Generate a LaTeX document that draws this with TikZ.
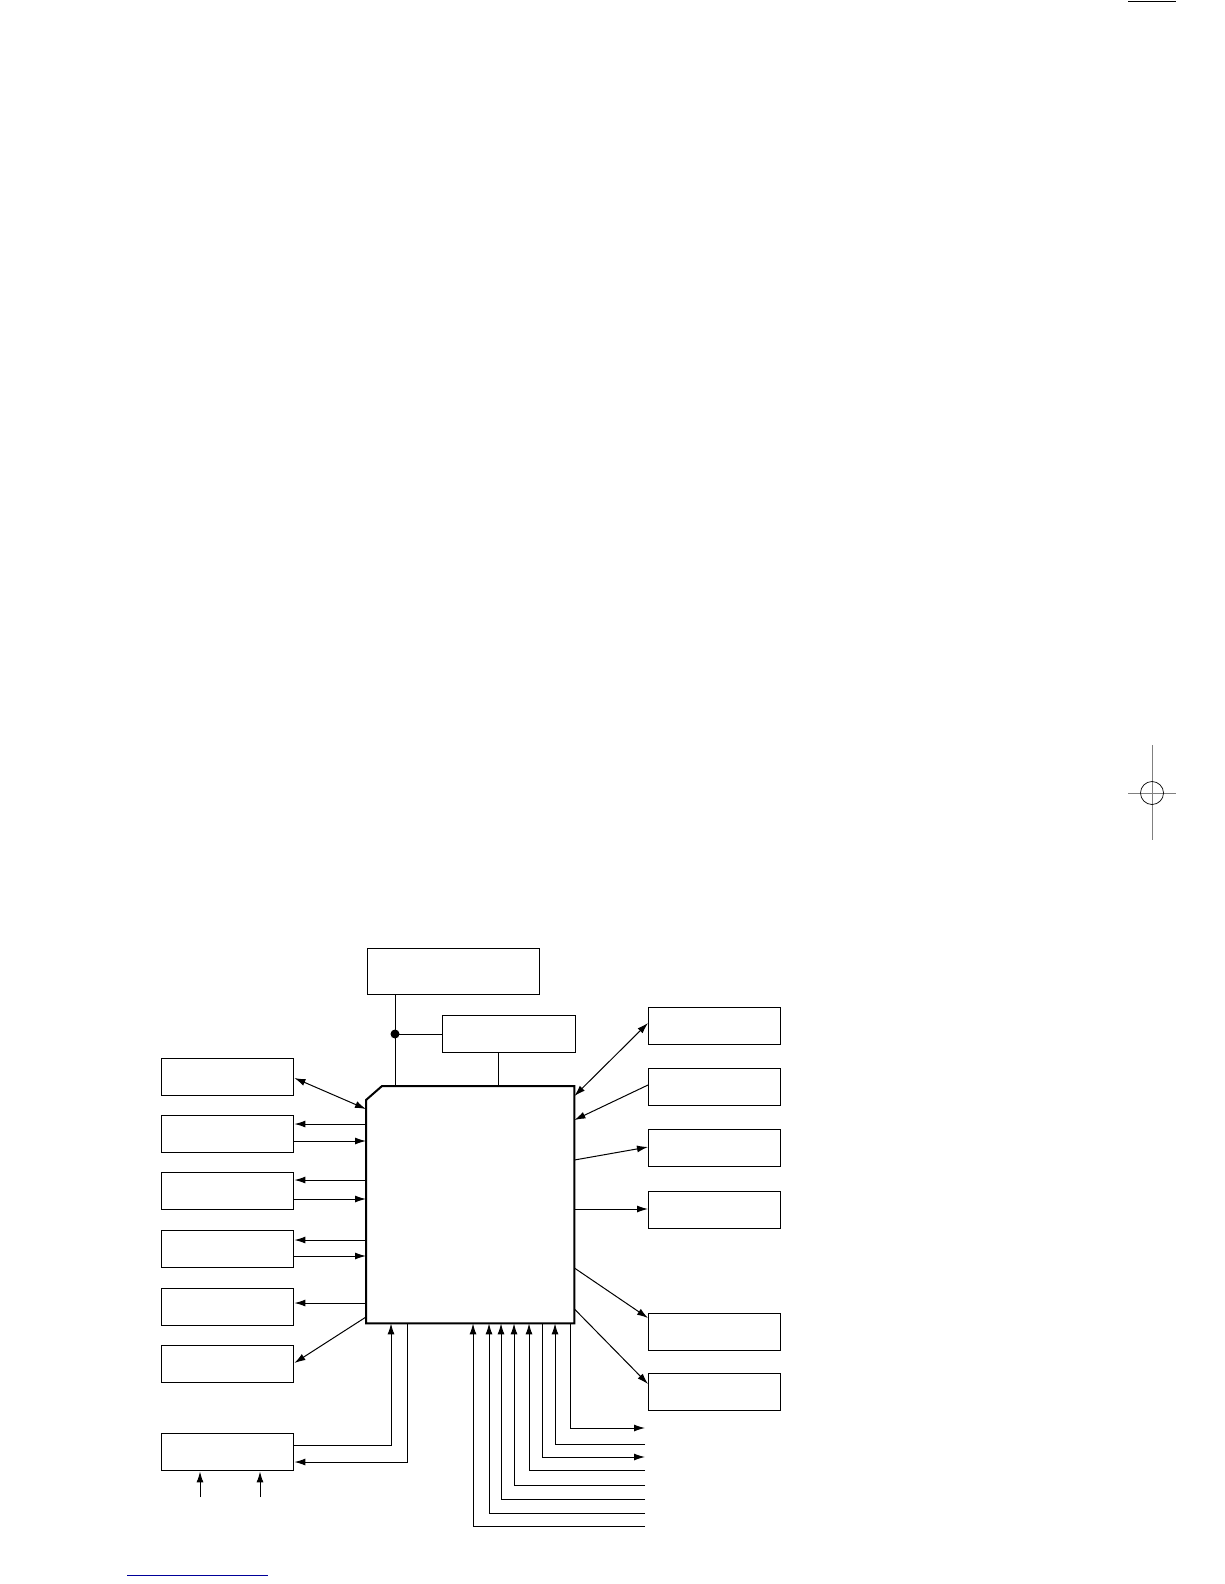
\documentclass[tikz,border=0pt]{standalone}
\usetikzlibrary{arrows.meta,calc}
\begin{document}
\begin{tikzpicture}[x=1pt,y=-1pt,
  box/.style={draw,line width=1.4pt,inner sep=0pt,anchor=north west,minimum width=132pt,minimum height=37pt},
  conn/.style={line width=1pt},
  arr/.style={conn,-{Latex[length=11pt,width=7pt]}},
  darr/.style={conn,{Latex[length=11pt,width=7pt]}-{Latex[length=11pt,width=7pt]}}]
\useasboundingbox (0,0) rectangle (1224,1584);
% page marks
\draw[line width=1.5pt] (1128,1.5) -- (1176,1.5);
\draw[gray,line width=0.8pt] (1152,745) -- (1152,840) (1128,793) -- (1176,793);
\draw[line width=0.7pt] (1152,793) circle (11.5);
\draw[blue!60!black,line width=1pt] (127,1575) -- (268,1575);
% main block
\node[inner sep=0pt,minimum width=208pt,minimum height=237pt,anchor=north west] (main) at (366,1086) {};
\draw[line width=2pt] ([xshift=16pt]main.north west) -- (main.north east) -- (main.south east)
  -- (main.south west) -- ([yshift=-14pt]main.north west) -- cycle;
% top boxes
\node[box,minimum width=172pt,minimum height=46pt] (T) at (367,948) {};
\node[box,minimum width=133pt,minimum height=37pt] (M) at (442,1015) {};
% left boxes
\node[box] (L1) at (161,1058) {};
\node[box] (L2) at (161,1115) {};
\node[box] (L3) at (161,1172) {};
\node[box] (L4) at (161,1230) {};
\node[box] (L5) at (161,1288) {};
\node[box] (L6) at (161,1345) {};
\node[box] (L7) at (161,1433) {};
% right boxes
\node[box] (R1) at (648,1007) {};
\node[box] (R2) at (648,1068) {};
\node[box] (R3) at (648,1129) {};
\node[box] (R4) at (648,1191) {};
\node[box] (R5) at (648,1313) {};
\node[box] (R6) at (648,1373) {};
% top connections
\coordinate (dot) at (395,1034);
\draw[conn] (T.south -| dot) -- (main.north -| dot);
\fill (dot) circle (4.5);
\draw[conn] (dot) -- (M.west |- dot);
\draw[conn] (M.south -| 498,0) -- (main.north -| 498,0);
% left connections
\draw[darr] (L1.east |- 0,1078) -- (main.west |- 0,1109);
\draw[arr] (main.west |- 0,1124) -- (L2.east |- 0,1124);
\draw[arr] (L2.east |- 0,1141) -- (main.west |- 0,1141);
\draw[arr] (main.west |- 0,1180) -- (L3.east |- 0,1180);
\draw[arr] (L3.east |- 0,1199) -- (main.west |- 0,1199);
\draw[arr] (main.west |- 0,1240) -- (L4.east |- 0,1240);
\draw[arr] (L4.east |- 0,1256) -- (main.west |- 0,1256);
\draw[arr] (main.west |- 0,1303) -- (L5.east |- 0,1303);
\draw[arr] (main.west |- 0,1317) -- (L6.east |- 0,1363);
\draw[arr] (L7.east |- 0,1445) -- (391,1445) -- (main.south -| 391,0);
\draw[arr] (main.south -| 407,0) -- (407,1462) -- (L7.east |- 0,1462);
\coordinate (in1) at (200,1497);
\coordinate (in2) at (260,1497);
\draw[arr] (in1) -- (L7.south -| in1);
\draw[arr] (in2) -- (L7.south -| in2);
% right connections
\draw[darr] (main.east |- 0,1096) -- (R1.west |- 0,1023);
\draw[arr] (R2.west |- 0,1085) -- (main.east |- 0,1120);
\draw[arr] (main.east |- 0,1160) -- (R3.west |- 0,1147);
\draw[arr] (main.east |- 0,1209) -- (R4.west |- 0,1209);
\draw[arr] (main.east |- 0,1268) -- (R5.west |- 0,1318);
\draw[arr] (main.east |- 0,1309) -- (R6.west |- 0,1384);
% bottom signal lines
\coordinate (o1) at (645,1428);
\coordinate (o2) at (645,1444);
\coordinate (o3) at (645,1457);
\coordinate (o4) at (645,1470);
\coordinate (o5) at (645,1485);
\coordinate (o6) at (645,1499);
\coordinate (o7) at (645,1513);
\coordinate (o8) at (645,1526);
\draw[arr] (main.south -| 570,0) -- (570,1428) -- (o1);
\draw[arr] (o2) -- (555,1444) -- (main.south -| 555,0);
\draw[arr] (main.south -| 542,0) -- (542,1457) -- (o3);
\draw[arr] (o4) -- (529,1470) -- (main.south -| 529,0);
\draw[arr] (o5) -- (514,1485) -- (main.south -| 514,0);
\draw[arr] (o6) -- (501,1499) -- (main.south -| 501,0);
\draw[arr] (o7) -- (489,1513) -- (main.south -| 489,0);
\draw[arr] (o8) -- (473,1526) -- (main.south -| 473,0);
\end{tikzpicture}
\end{document}
